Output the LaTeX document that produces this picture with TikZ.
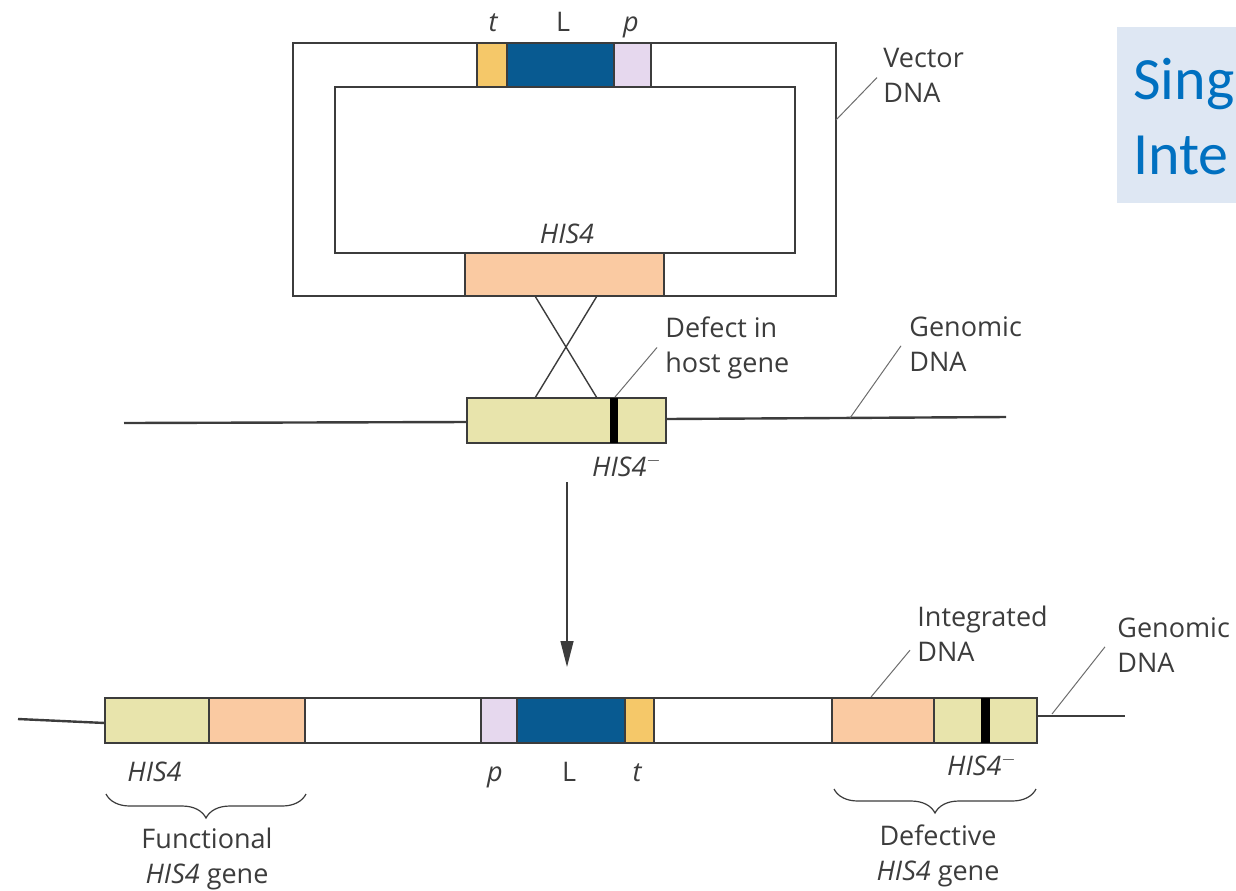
\documentclass[tikz,border=0pt]{standalone}
\usepackage{fontspec}
\setmainfont{Open Sans}
\newfontfamily\calibrifont{Carlito}
\usetikzlibrary{arrows.meta,decorations.pathreplacing}
\definecolor{khaki}{RGB}{232,228,172}
\definecolor{salmon}{RGB}{250,202,162}
\definecolor{leaderblue}{RGB}{8,90,145}
\definecolor{termyellow}{RGB}{245,200,105}
\definecolor{promlilac}{RGB}{230,216,238}
\definecolor{ink}{RGB}{60,60,60}
\definecolor{titlebg}{RGB}{222,231,243}
\definecolor{titleblue}{RGB}{0,112,192}

\begin{document}
\begin{tikzpicture}[x=0.5pt, y=-0.5pt, >={Triangle[width=6.5pt,length=13pt]},
		seg/.style={draw=ink, line width=0.75pt},
		dna/.style={draw=ink, line width=1.2pt},
		cross/.style={draw=ink, line width=0.7pt},
		leader/.style={draw=ink!75, line width=0.5pt},
		lbl/.style={inner sep=0pt, text=ink, font=\fontsize{13.5}{17.5}\selectfont},
		lblit/.style={lbl, font=\fontsize{13.5}{17.5}\selectfont\itshape},
		title/.style={anchor=base west, inner sep=0pt, text=titleblue,
			font=\calibrifont\fontsize{30}{37.5}\selectfont},
		brace/.style={draw=ink, line width=0.6pt, decorate,
			decoration={brace, mirror, amplitude=12pt}}]
		\useasboundingbox (0,0) rectangle (1236,890);
		% title box, running off the right edge
		\fill[titlebg] (1117,27) rectangle (1236,203);
		\node[title] (title1) at (1133,99) {Sing};
		\node[title] (title2) at (1133,174) {Inte};
		% vector DNA (circular plasmid drawn as a frame)
		\draw[seg, fill=white] (293,43) rectangle (836,296);
		\draw[seg] (335,87) rectangle (795,253);
		\draw[seg, fill=termyellow] (477,43) rectangle (507,87);
		\draw[seg, fill=leaderblue] (507,43) rectangle (614,87);
		\draw[seg, fill=promlilac] (614,43) rectangle (651,87);
		\draw[seg, fill=salmon] (465,253) rectangle (664,296);
		\node[lblit, anchor=base] (tV) at (493,31) {t};
		\node[lbl, anchor=base] (LV) at (563,31) {L};
		\node[lblit, anchor=base] (pV) at (631,31) {p};
		\node[lblit, anchor=base] (hisV) at (567,243) {HIS4};
		\node[lbl, align=left, anchor=north west] (vecLbl) at (883,48) {Vector\\DNA};
		\coordinate (vecEdge) at (836,120);
		\draw[leader] (vecEdge) -- ([shift={(-6,2)}]vecLbl.west);
		% host chromosome before integration
		\coordinate (gl0) at (124,423);
		\coordinate (gr1) at (1006,417);
		\draw[dna] (gl0) -- (467,422);
		\draw[dna] (666,419) -- (gr1);
		\draw[seg, fill=khaki] (467,398) rectangle (666,443);
		\fill[black] (610,398) rectangle (618,443);
		% crossover between HIS4 copies
		\coordinate (xTopL) at (535,296);
		\coordinate (xTopR) at (597,296);
		\coordinate (xBotL) at (535,398);
		\coordinate (xBotR) at (597,398);
		\draw[cross] (xTopL) -- (xBotR);
		\draw[cross] (xTopR) -- (xBotL);
		\node[lbl, align=left, anchor=north west] (defLbl) at (665,316) {Defect in\\host gene};
		\coordinate (defBar) at (615,397);
		\draw[leader] (defBar) -- ([shift={(-8,0)}]defLbl.west);
		\node[lbl, align=left, anchor=north west] (genLbl) at (909,316) {Genomic\\DNA};
		\coordinate (genLine) at (850,418);
		\draw[leader] (genLine) -- ([shift={(-8,2)}]genLbl.west);
		\node[lblit, anchor=base] (hisMinus) at (627,476) {HIS4$^{-}$};
		% integration step
		\coordinate (arrEnd) at (567,667);
		\draw[->, ink, line width=0.7pt] (567,482) -- (arrEnd);
		% chromosome after integration
		\coordinate (bl0) at (18,719);
		\coordinate (br1) at (1125,716);
		\draw[dna] (bl0) -- (105,723);
		\draw[dna] (1037,716) -- (br1);
		\draw[seg, fill=white] (105,698) rectangle (1037,743);
		\draw[seg, fill=khaki] (105,698) rectangle (209,743);
		\draw[seg, fill=salmon] (209,698) rectangle (305,743);
		\draw[seg, fill=promlilac] (481,698) rectangle (517,743);
		\draw[seg, fill=leaderblue] (517,698) rectangle (625,743);
		\draw[seg, fill=termyellow] (625,698) rectangle (654,743);
		\draw[seg, fill=salmon] (832,698) rectangle (934,743);
		\draw[seg, fill=khaki] (934,698) rectangle (1037,743);
		\fill[black] (981,698) rectangle (990,743);
		\node[lblit, anchor=base west] (hisF) at (127,781) {HIS4};
		\node[lblit, anchor=base] (pB) at (495,781) {p};
		\node[lbl, anchor=base] (LB) at (569,781) {L};
		\node[lblit, anchor=base] (tB) at (637,781) {t};
		\node[lblit, anchor=base] (hisD) at (982,775) {HIS4$^{-}$};
		\node[lbl, align=left, anchor=north west] (intLbl) at (917,606) {Integrated\\DNA};
		\coordinate (intSeg) at (871,697);
		\draw[leader] (intSeg) -- ([shift={(-7,16)}]intLbl.west);
		\node[lbl, align=left, anchor=north west] (gen2Lbl) at (1117,617) {Genomic\\DNA};
		\coordinate (gen2Line) at (1052,714);
		\draw[leader] (gen2Line) -- ([shift={(-12,2)}]gen2Lbl.west);
		% braces
		\coordinate (bfL) at (106,794);
		\coordinate (bfR) at (306,794);
		\draw[brace] (bfL) -- (bfR);
		\node[lbl, align=center, anchor=north] (funLbl) at (207,828)
			{Functional\\{\itshape HIS4} gene};
		\coordinate (bdL) at (834,789);
		\coordinate (bdR) at (1036,789);
		\draw[brace] (bdL) -- (bdR);
		\node[lbl, align=center, anchor=north] (defcLbl) at (938,824)
			{Defective\\{\itshape HIS4} gene};
\end{tikzpicture}
\end{document}
